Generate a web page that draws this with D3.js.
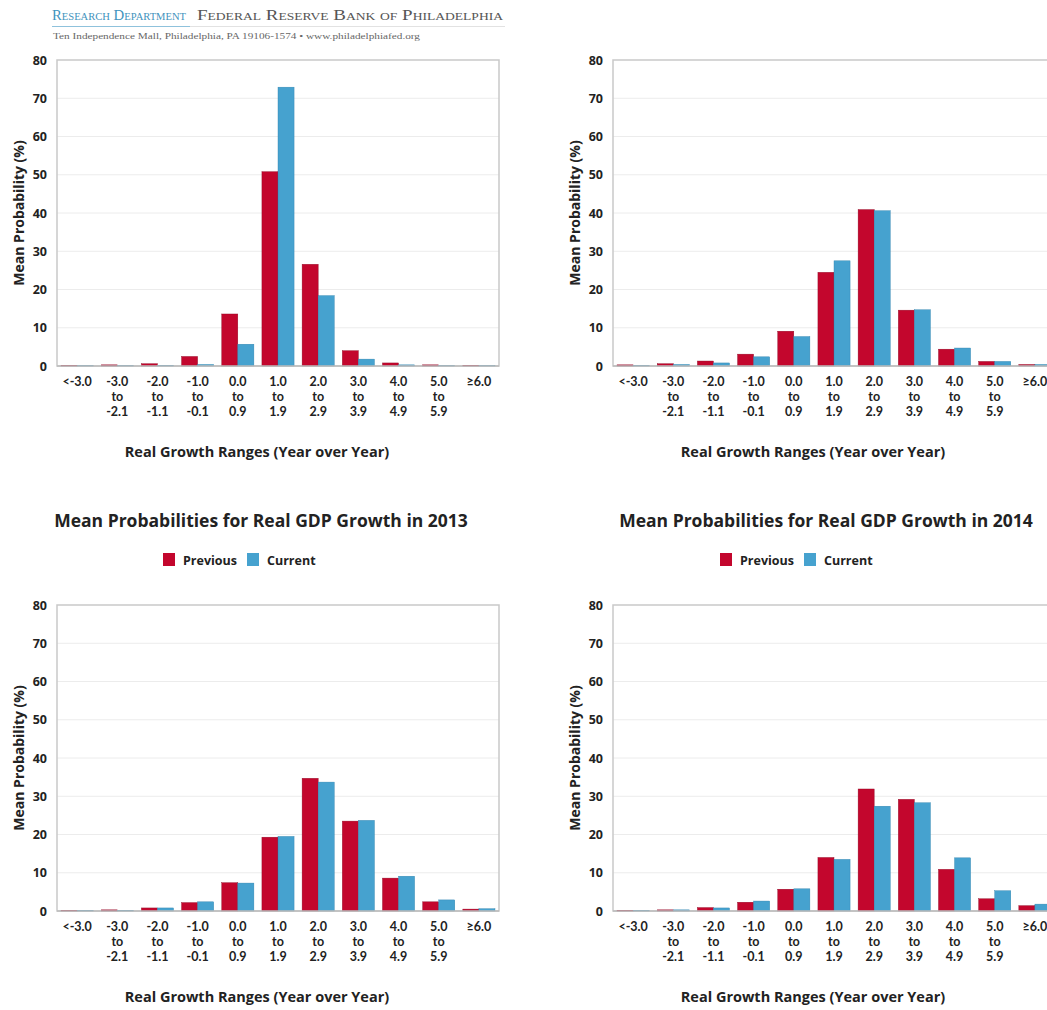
<!DOCTYPE html>
<html>
<head>
<meta charset="utf-8">
<script src="https://cdn.jsdelivr.net/npm/d3@7/dist/d3.min.js"></script>
<style>
  html, body { margin: 0; padding: 0; background: #fff; }
  svg { display: block; }
</style>
</head>
<body>
<svg id="chart" width="1047" height="1010"></svg>
<script>
// ---------- data ----------
const categories = ["<-3.0", "-3.0 to -2.1", "-2.0 to -1.1", "-1.0 to -0.1", "0.0 to 0.9", "1.0 to 1.9",
                    "2.0 to 2.9", "3.0 to 3.9", "4.0 to 4.9", "5.0 to 5.9", "≥6.0"];
const labelLine1 = ["<-3.0", "-3.0", "-2.0", "-1.0", "0.0", "1.0", "2.0", "3.0", "4.0", "5.0", "≥6.0"];
const labelLine2 = ["", "to", "to", "to", "to", "to", "to", "to", "to", "to", ""];
const labelLine3 = ["", "-2.1", "-1.1", "-0.1", "0.9", "1.9", "2.9", "3.9", "4.9", "5.9", ""];
const seriesNames = ["Previous", "Current"];
const yTicks = [0, 10, 20, 30, 40, 50, 60, 70, 80];

// top-left panel (title cut off)
const panelA_previous = [0.2, 0.3, 0.6, 2.5, 13.6, 50.8, 26.6, 4.0, 0.8, 0.3, 0.2];
const panelA_current  = [0.1, 0.1, 0.2, 0.4, 5.7, 72.9, 18.4, 1.8, 0.3, 0.1, 0.1];
// top-right panel (title cut off)
const panelB_previous = [0.3, 0.6, 1.3, 3.1, 9.1, 24.5, 40.9, 14.6, 4.4, 1.2, 0.4];
const panelB_current  = [0.2, 0.4, 0.8, 2.4, 7.7, 27.5, 40.6, 14.7, 4.7, 1.2, 0.4];
// 2013
const panelC_previous = [0.2, 0.3, 0.8, 2.2, 7.4, 19.3, 34.7, 23.5, 8.6, 2.4, 0.5];
const panelC_current  = [0.2, 0.2, 0.8, 2.4, 7.3, 19.5, 33.7, 23.7, 9.1, 2.9, 0.6];
// 2014
const panelD_previous = [0.2, 0.3, 0.9, 2.3, 5.7, 14.0, 31.9, 29.2, 10.9, 3.2, 1.4];
const panelD_current  = [0.2, 0.3, 0.8, 2.6, 5.8, 13.5, 27.4, 28.3, 13.9, 5.3, 1.8];

const titleC = "Mean Probabilities for Real GDP Growth in 2013";
const titleD = "Mean Probabilities for Real GDP Growth in 2014";
const yAxisTitle = "Mean Probability (%)";
const xAxisTitle = "Real Growth Ranges (Year over Year)";

// ---------- style ----------
const RED = "#c3062d";
const BLUE = "#46a2cf";
const colors = [RED, BLUE];
const strokeColors = ["#8e0a25", "#2f82ad"];
const FONT = "'Open Sans', 'Noto Sans', 'DejaVu Sans', sans-serif";
const TICKFONT = "Lato, 'Open Sans', sans-serif";
const SERIF = "'Liberation Serif', 'DejaVu Serif', serif";
const TXT = "#222";

const svg = d3.select("#chart");

// ---------- header ----------
const header = svg.append("g");
header.append("text")
  .attr("x", 52).attr("y", 20)
  .attr("font-family", SERIF).attr("font-size", 14)
  .style("font-variant", "small-caps")
  .attr("textLength", 134).attr("lengthAdjust", "spacingAndGlyphs")
  .attr("fill", "#3f93bd")
  .text("Research Department");
header.append("text")
  .attr("x", 197).attr("y", 20)
  .attr("font-family", SERIF).attr("font-size", 14)
  .style("font-variant", "small-caps")
  .attr("textLength", 306).attr("lengthAdjust", "spacingAndGlyphs")
  .attr("fill", "#555")
  .text("Federal Reserve Bank of Philadelphia");
header.append("line")
  .attr("x1", 52).attr("x2", 190).attr("y1", 26.5).attr("y2", 26.5)
  .attr("stroke", "#8fc2dc").attr("stroke-width", 1);
header.append("line")
  .attr("x1", 190).attr("x2", 505).attr("y1", 26.5).attr("y2", 26.5)
  .attr("stroke", "#e2e2e2").attr("stroke-width", 1);
header.append("text")
  .attr("x", 53).attr("y", 39)
  .attr("font-family", SERIF).attr("font-size", 8.5)
  .attr("textLength", 367).attr("lengthAdjust", "spacingAndGlyphs")
  .attr("fill", "#666")
  .text("Ten Independence Mall, Philadelphia, PA 19106-1574  •  www.philadelphiafed.org");

// ---------- panel drawing ----------
function drawPanel(cfg) {
  const W = 442, H = 306;
  const g = svg.append("g").attr("transform", `translate(${cfg.left},${cfg.top})`);

  const x0 = d3.scaleBand().domain(categories).range([0, W]).paddingInner(0.2).paddingOuter(0.1);
  const x1 = d3.scaleBand().domain(seriesNames).range([0, x0.bandwidth()]);
  const y = d3.scaleLinear().domain([0, 80]).range([H, 0]);

  // gridlines
  g.append("g").selectAll("line").data(yTicks.filter(t => t > 0 && t < 80)).join("line")
    .attr("x1", 0).attr("x2", W)
    .attr("y1", d => y(d)).attr("y2", d => y(d))
    .attr("stroke", "#ececec").attr("stroke-width", 1);

  // frame
  g.append("rect").attr("x", 0).attr("y", 0).attr("width", W).attr("height", H)
    .attr("fill", "none").attr("stroke", "#c9c9c9").attr("stroke-width", 1.5);

  // bars
  const rows = categories.map((c, i) => ({ c, vals: [cfg.prev[i], cfg.cur[i]] }));
  const grp = g.append("g").selectAll("g").data(rows).join("g")
    .attr("transform", d => `translate(${x0(d.c)},0)`);
  grp.selectAll("rect").data(d => d.vals.map((v, k) => ({ v, k }))).join("rect")
    .attr("x", d => x1(seriesNames[d.k]))
    .attr("width", x1.bandwidth())
    .attr("y", d => y(d.v))
    .attr("height", d => y(0) - y(d.v))
    .attr("fill", d => colors[d.k])
    .attr("stroke", d => strokeColors[d.k])
    .attr("stroke-width", 0.4);

  // baseline
  g.append("line").attr("x1", 0).attr("x2", W).attr("y1", H).attr("y2", H)
    .attr("stroke", "#bdbdbd").attr("stroke-width", 1.5);

  // y axis
  const yAxis = d3.axisLeft(y).tickValues(yTicks).tickSize(0).tickPadding(10);
  const ya = g.append("g").call(yAxis);
  ya.select(".domain").remove();
  ya.selectAll("text").attr("font-family", FONT).attr("font-size", 12.5)
    .attr("font-weight", "bold").attr("fill", TXT);

  // x axis (multi-line labels)
  const xAxis = d3.axisBottom(x0).tickSize(0).tickFormat(() => "");
  const xa = g.append("g").attr("transform", `translate(0,${H})`).call(xAxis);
  xa.select(".domain").remove();
  xa.selectAll(".tick").each(function(d) {
    const i = categories.indexOf(d);
    const t = d3.select(this).append("text")
      .attr("font-family", TICKFONT).attr("font-size", 12.5).attr("font-weight", "bold")
      .attr("fill", TXT).attr("text-anchor", "middle");
    [labelLine1[i], labelLine2[i], labelLine3[i]].forEach((s, k) => {
      if (s) t.append("tspan").attr("x", 0).attr("y", 19.5 + k * 15).text(s);
    });
  });

  // axis titles
  g.append("text")
    .attr("transform", `translate(${-33},${H / 2}) rotate(-90)`)
    .attr("text-anchor", "middle")
    .attr("font-family", FONT).attr("font-size", 14).attr("font-weight", "bold")
    .attr("fill", TXT)
    .text(yAxisTitle);
  g.append("text")
    .attr("x", W / 2 - 21).attr("y", H + 91)
    .attr("text-anchor", "middle")
    .attr("font-family", FONT).attr("font-size", 14.5).attr("font-weight", "bold")
    .attr("fill", TXT)
    .text(xAxisTitle);

  // title and legend
  if (cfg.title) {
    svg.append("text")
      .attr("x", cfg.titleX).attr("y", cfg.top - 78)
      .attr("text-anchor", "middle")
      .attr("font-family", FONT).attr("font-size", 17.5).attr("font-weight", "bold")
      .attr("fill", TXT)
      .text(cfg.title);
    const lg = svg.append("g").attr("transform", `translate(${cfg.legendX},${cfg.top - 45})`);
    const items = lg.selectAll("g").data(seriesNames).join("g")
      .attr("transform", (d, i) => `translate(${i * 84},0)`);
    items.append("rect").attr("x", 0).attr("y", -7).attr("width", 12).attr("height", 13)
      .attr("fill", (d, i) => colors[i]);
    items.append("text").attr("x", 20).attr("y", 4.5)
      .attr("font-family", FONT).attr("font-size", 12.5).attr("font-weight", "bold")
      .attr("fill", TXT).text(d => d);
  }
}

drawPanel({ left: 57, top: 60, prev: panelA_previous, cur: panelA_current });
drawPanel({ left: 613, top: 60, prev: panelB_previous, cur: panelB_current });
drawPanel({ left: 57, top: 605, prev: panelC_previous, cur: panelC_current,
            title: titleC, titleX: 261, legendX: 163 });
drawPanel({ left: 613, top: 605, prev: panelD_previous, cur: panelD_current,
            title: titleD, titleX: 826, legendX: 720 });
</script>
</body>
</html>
